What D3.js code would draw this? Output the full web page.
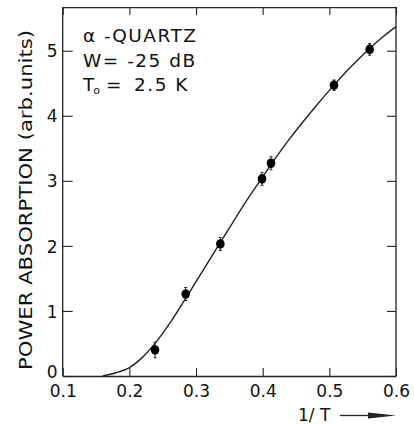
<!DOCTYPE html>
<html>
<head>
<meta charset="utf-8">
<script src="https://cdn.jsdelivr.net/npm/d3@7"></script>
<style>
  html, body { margin: 0; padding: 0; background: #fff; }
  svg text { font-family: "DejaVu Sans", "Liberation Sans", sans-serif; fill: #111; white-space: pre; }
</style>
</head>
<body>
<div class="js-chart"></div>
<script>
// measured points (1/T, power absorption) with error half-heights
const invT = [0.2385, 0.2845, 0.3365, 0.399, 0.4125, 0.507, 0.5605];
const absorption = [0.40, 1.26, 2.03, 3.03, 3.27, 4.47, 5.02];
const errors = [0.12, 0.10, 0.10, 0.10, 0.10, 0.08, 0.09];

// fitted curve
const curveX = [0.16, 0.18, 0.20, 0.22, 0.24, 0.26, 0.28, 0.30, 0.32, 0.34, 0.36, 0.38,
                0.40, 0.42, 0.44, 0.46, 0.48, 0.50, 0.52, 0.54, 0.56, 0.58, 0.60];
const curveY = [0.00, 0.05, 0.13, 0.29, 0.52, 0.80, 1.12, 1.45, 1.78, 2.11, 2.44, 2.76,
                3.06, 3.36, 3.64, 3.90, 4.15, 4.39, 4.62, 4.83, 5.03, 5.21, 5.37];

const xTicks = [0.1, 0.2, 0.3, 0.4, 0.5, 0.6];
const yTicks = [0, 1, 2, 3, 4, 5];
const legendLines = ['α -QUARTZ', 'W= -25 dB'];

const width = 414, height = 424;

const x = d3.scaleLinear().domain([0.1, 0.6]).range([62.7, 396]);
const y = d3.scaleLinear().domain([0, 5]).range([376, 50.7]);
const yTop = 5.67;

const svg = d3.select('.js-chart').append('svg')
  .attr('width', width).attr('height', height);

const ink = '#222';

// frame axes
const axBottom = svg.append('g').attr('transform', 'translate(0,' + y(0) + ')')
  .call(d3.axisBottom(x).tickValues(xTicks).tickSizeInner(-8).tickSizeOuter(0)
    .tickPadding(9).tickFormat(d3.format('.1f')));
const axTop = svg.append('g').attr('transform', 'translate(0,' + y(yTop) + ')')
  .call(d3.axisTop(x).tickValues(xTicks).tickSizeInner(-8).tickSizeOuter(0).tickFormat(''));
const axLeft = svg.append('g').attr('transform', 'translate(' + x(0.1) + ',0)')
  .call(d3.axisLeft(y).tickValues(yTicks).tickSizeInner(-10).tickSizeOuter(0)
    .tickPadding(5).tickFormat(d3.format('d')));
const axRight = svg.append('g').attr('transform', 'translate(' + x(0.6) + ',0)')
  .call(d3.axisRight(y).tickValues(yTicks).tickSizeInner(-9).tickSizeOuter(0).tickFormat(''));

// extend vertical axis lines up to the top of the frame
axLeft.select('.domain').attr('d', 'M0,' + y(0) + 'V' + y(yTop));
axRight.select('.domain').attr('d', 'M0,' + y(0) + 'V' + y(yTop));

[axBottom, axTop, axLeft, axRight].forEach(function (g) {
  g.selectAll('.domain').attr('stroke', ink).attr('stroke-width', 1.3);
  g.selectAll('.tick line').attr('stroke', ink).attr('stroke-width', 1.1);
  g.selectAll('.tick text').attr('font-size', 17).attr('fill', '#111')
    .style('font-family', '"DejaVu Sans", sans-serif');
});
axLeft.selectAll('.tick text').attr('dy', function (d) { return d === 0 ? '0.1em' : '0.36em'; });

// curve
const line = d3.line().x(function (d) { return x(d[0]); }).y(function (d) { return y(d[1]); })
  .curve(d3.curveCatmullRom);
svg.append('path')
  .datum(curveX.map(function (v, i) { return [v, curveY[i]]; }))
  .attr('d', line)
  .attr('fill', 'none').attr('stroke', ink).attr('stroke-width', 1.4);

// error bars
const pts = invT.map(function (v, i) { return { x: v, y: absorption[i], e: errors[i] }; });
const eb = svg.append('g').selectAll('g').data(pts).enter().append('g');
eb.append('line')
  .attr('x1', function (d) { return x(d.x); }).attr('x2', function (d) { return x(d.x); })
  .attr('y1', function (d) { return y(d.y + d.e); }).attr('y2', function (d) { return y(d.y - d.e); })
  .attr('stroke', ink).attr('stroke-width', 1);
[1, -1].forEach(function (s) {
  eb.append('line')
    .attr('x1', function (d) { return x(d.x) - 1.5; }).attr('x2', function (d) { return x(d.x) + 1.5; })
    .attr('y1', function (d) { return y(d.y + s * d.e); }).attr('y2', function (d) { return y(d.y + s * d.e); })
    .attr('stroke', ink).attr('stroke-width', 1);
});
svg.append('g').selectAll('ellipse').data(pts).enter().append('ellipse')
  .attr('cx', function (d) { return x(d.x); })
  .attr('cy', function (d) { return y(d.y); })
  .attr('rx', 4.3).attr('ry', 4.8)
  .attr('fill', '#000');

// legend text
const legend = svg.append('g').attr('font-size', 18.5).attr('letter-spacing', 1.5);
legendLines.forEach(function (t, i) {
  legend.append('text').attr('x', 83).attr('y', 42 + i * 25).text(t);
});
const t0 = legend.append('text').attr('y', 91).attr('letter-spacing', 0);
t0.append('tspan').attr('x', 83).text('T');
t0.append('tspan').attr('font-size', 11).attr('dx', -1).attr('dy', 3).text('o');
t0.append('tspan').attr('x', 106).attr('dy', -3).text('=');
t0.append('tspan').attr('x', 134).attr('letter-spacing', 1.5).text('2.5 K');

// axis titles
svg.append('text')
  .attr('transform', 'translate(32,' + ((27 + 373) / 2) + ') rotate(-90)')
  .attr('text-anchor', 'middle')
  .attr('font-size', 17)
  .attr('textLength', 340).attr('lengthAdjust', 'spacingAndGlyphs')
  .text('POWER ABSORPTION (arb.units)');

svg.append('text').attr('x', 298).attr('y', 421).attr('font-size', 17).text('1/ T');
svg.append('line').attr('x1', 340).attr('x2', 372).attr('y1', 415.5).attr('y2', 415.5)
  .attr('stroke', ink).attr('stroke-width', 1.3);
svg.append('path').attr('d', 'M368,412.5 L396,415.5 L368,418.5 Z').attr('fill', ink);
</script>
</body>
</html>
